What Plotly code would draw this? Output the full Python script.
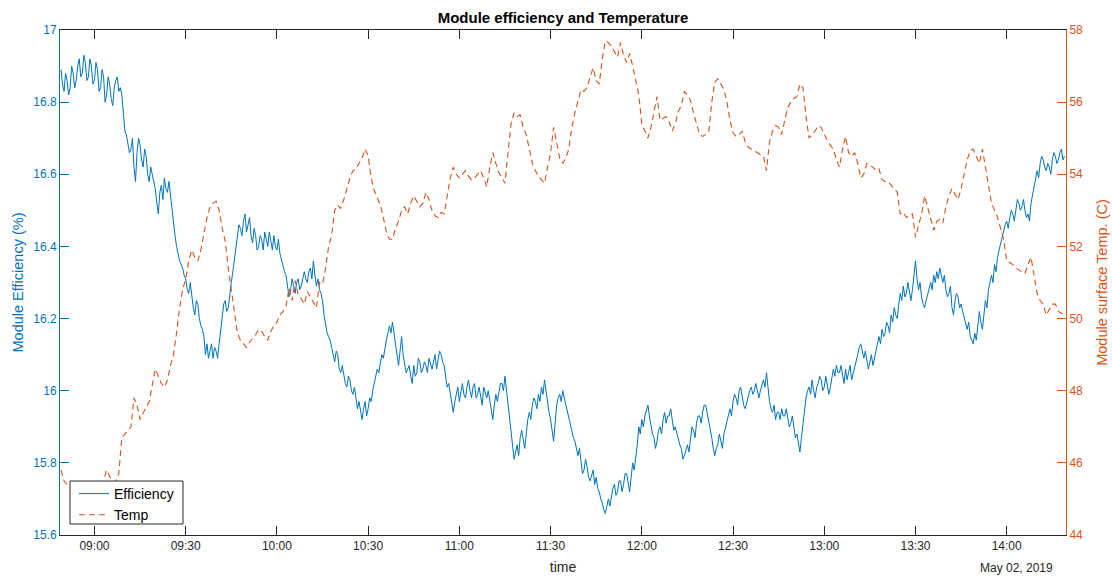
import pandas as pd
import plotly.graph_objects as go

# ---- data (2019-05-02) ----
# efficiency sampled every 30 s from 08:49:00, temperature every 1 min from 08:49:00
eff_start = "2019-05-02 08:49:00"
temp_start = "2019-05-02 08:49:00"

efficiency = [
    16.89, 16.85, 16.83, 16.88, 16.86, 16.82, 16.84, 16.90, 16.88, 16.84, 16.86, 16.90, 16.92, 16.87, 16.88, 16.93, 16.91, 16.86, 16.87, 16.92,
    16.90, 16.85, 16.86, 16.91, 16.89, 16.83, 16.84, 16.89, 16.87, 16.80, 16.82, 16.87, 16.85, 16.81, 16.79, 16.84, 16.86, 16.87, 16.83, 16.84,
    16.82, 16.76, 16.72, 16.71, 16.69, 16.66, 16.67, 16.70, 16.62, 16.58, 16.66, 16.70, 16.68, 16.64, 16.62, 16.67, 16.65, 16.60, 16.58, 16.62,
    16.60, 16.58, 16.56, 16.52, 16.49, 16.55, 16.57, 16.53, 16.59, 16.56, 16.55, 16.58, 16.54, 16.50, 16.46, 16.43, 16.40, 16.38, 16.36, 16.35,
    16.34, 16.32, 16.31, 16.28, 16.27, 16.30, 16.26, 16.23, 16.21, 16.25, 16.24, 16.20, 16.18, 16.17, 16.15, 16.10, 16.13, 16.09, 16.11, 16.13,
    16.09, 16.12, 16.11, 16.09, 16.13, 16.17, 16.20, 16.24, 16.25, 16.22, 16.23, 16.27, 16.30, 16.33, 16.36, 16.39, 16.42, 16.46, 16.45, 16.43,
    16.47, 16.49, 16.44, 16.46, 16.48, 16.43, 16.41, 16.45, 16.43, 16.39, 16.40, 16.43, 16.42, 16.39, 16.44, 16.42, 16.40, 16.44, 16.41, 16.39,
    16.43, 16.40, 16.39, 16.42, 16.38, 16.36, 16.35, 16.33, 16.32, 16.29, 16.26, 16.28, 16.31, 16.29, 16.27, 16.30, 16.31, 16.28, 16.29, 16.31,
    16.33, 16.31, 16.30, 16.33, 16.34, 16.31, 16.36, 16.32, 16.29, 16.31, 16.28, 16.27, 16.25, 16.21, 16.18, 16.16, 16.15, 16.14, 16.12, 16.10,
    16.08, 16.11, 16.10, 16.06, 16.05, 16.07, 16.04, 16.02, 16.01, 16.04, 16.03, 16.00, 15.99, 16.01, 15.98, 15.95, 15.97, 15.94, 15.92, 15.95,
    15.97, 15.93, 15.95, 15.98, 15.97, 16.00, 16.02, 16.04, 16.06, 16.05, 16.08, 16.10, 16.09, 16.12, 16.14, 16.16, 16.18, 16.16, 16.19, 16.16,
    16.13, 16.10, 16.07, 16.11, 16.15, 16.10, 16.08, 16.05, 16.06, 16.07, 16.04, 16.02, 16.07, 16.04, 16.05, 16.09, 16.08, 16.05, 16.06, 16.08,
    16.07, 16.05, 16.09, 16.07, 16.06, 16.08, 16.10, 16.06, 16.08, 16.11, 16.10, 16.08, 16.07, 16.04, 16.01, 16.02, 15.99, 15.96, 15.94, 15.97,
    15.99, 16.01, 15.97, 16.00, 16.02, 15.99, 15.98, 16.01, 16.03, 16.00, 15.98, 16.01, 16.02, 15.98, 15.99, 16.01, 15.98, 15.96, 16.01, 15.99,
    15.98, 16.00, 15.97, 15.94, 15.92, 15.96, 15.99, 15.97, 16.00, 16.02, 16.02, 16.00, 16.04, 16.00, 15.97, 15.93, 15.89, 15.84, 15.81, 15.83,
    15.85, 15.82, 15.87, 15.89, 15.86, 15.84, 15.88, 15.92, 15.94, 15.92, 15.96, 15.98, 15.97, 15.95, 15.99, 15.97, 16.01, 15.99, 16.03, 16.00,
    15.96, 15.94, 15.92, 15.89, 15.86, 15.91, 15.96, 15.98, 15.99, 15.97, 16.00, 15.98, 15.96, 15.94, 15.93, 15.90, 15.89, 15.87, 15.86, 15.84,
    15.82, 15.84, 15.80, 15.77, 15.78, 15.81, 15.79, 15.76, 15.75, 15.77, 15.78, 15.74, 15.76, 15.73, 15.72, 15.70, 15.69, 15.67, 15.66, 15.68,
    15.70, 15.68, 15.71, 15.73, 15.74, 15.71, 15.72, 15.75, 15.75, 15.72, 15.74, 15.77, 15.77, 15.74, 15.72, 15.76, 15.80, 15.78, 15.81, 15.85,
    15.90, 15.88, 15.92, 15.90, 15.93, 15.95, 15.96, 15.93, 15.90, 15.88, 15.87, 15.84, 15.86, 15.89, 15.90, 15.88, 15.92, 15.94, 15.91, 15.93,
    15.93, 15.95, 15.92, 15.89, 15.90, 15.88, 15.87, 15.85, 15.84, 15.81, 15.82, 15.84, 15.85, 15.83, 15.87, 15.90, 15.89, 15.87, 15.91, 15.93,
    15.93, 15.91, 15.94, 15.96, 15.96, 15.94, 15.92, 15.89, 15.87, 15.84, 15.82, 15.84, 15.85, 15.88, 15.86, 15.84, 15.88, 15.90, 15.92, 15.94,
    15.95, 15.93, 15.97, 15.99, 15.98, 15.96, 16.00, 16.01, 15.98, 15.96, 15.95, 15.97, 15.98, 16.00, 16.01, 15.99, 16.00, 16.02, 16.00, 15.98,
    16.00, 16.02, 16.03, 16.01, 16.05, 16.01, 15.97, 15.95, 15.94, 15.96, 15.92, 15.94, 15.94, 15.92, 15.95, 15.93, 15.93, 15.95, 15.92, 15.90,
    15.91, 15.93, 15.90, 15.87, 15.88, 15.85, 15.83, 15.87, 15.91, 15.95, 15.98, 16.00, 16.01, 15.99, 16.03, 16.00, 15.98, 16.01, 16.02, 16.04,
    16.03, 16.00, 16.01, 16.04, 16.02, 15.99, 16.01, 16.04, 16.06, 16.04, 16.07, 16.05, 16.05, 16.07, 16.04, 16.02, 16.06, 16.03, 16.05, 16.07,
    16.03, 16.05, 16.06, 16.08, 16.10, 16.12, 16.13, 16.11, 16.09, 16.11, 16.08, 16.06, 16.08, 16.10, 16.07, 16.09, 16.11, 16.13, 16.15, 16.13,
    16.17, 16.15, 16.16, 16.19, 16.18, 16.16, 16.21, 16.19, 16.23, 16.21, 16.20, 16.24, 16.27, 16.25, 16.29, 16.26, 16.27, 16.30, 16.27, 16.25,
    16.28, 16.32, 16.36, 16.31, 16.28, 16.30, 16.26, 16.24, 16.23, 16.25, 16.27, 16.29, 16.30, 16.28, 16.32, 16.30, 16.33, 16.31, 16.34, 16.32,
    16.30, 16.32, 16.28, 16.26, 16.27, 16.29, 16.23, 16.21, 16.25, 16.27, 16.26, 16.23, 16.24, 16.22, 16.20, 16.18, 16.17, 16.19, 16.15, 16.14,
    16.13, 16.16, 16.14, 16.18, 16.22, 16.19, 16.17, 16.21, 16.25, 16.23, 16.28, 16.30, 16.32, 16.30, 16.35, 16.33, 16.37, 16.39, 16.41, 16.43,
    16.44, 16.46, 16.47, 16.45, 16.48, 16.50, 16.49, 16.47, 16.50, 16.53, 16.52, 16.50, 16.51, 16.53, 16.50, 16.48, 16.49, 16.47, 16.52, 16.54,
    16.57, 16.59, 16.61, 16.59, 16.63, 16.65, 16.64, 16.62, 16.61, 16.63, 16.62, 16.60, 16.64, 16.66, 16.65, 16.63, 16.64, 16.66, 16.67, 16.64,
    16.65,
]

temperature = [
    45.8, 45.5, 45.4, 45.3, 45.2, 45.3, 45.2, 45.1, 45.2, 45.3,
    45.2, 45.3, 45.4, 45.3, 45.5, 45.8, 45.6, 45.45, 45.5, 45.7,
    46.7, 46.8, 46.9, 47.0, 47.8, 47.6, 47.2, 47.4, 47.55, 47.7,
    48.1, 48.6, 48.4, 48.2, 48.1, 48.3, 48.7, 49.0, 49.6, 50.3,
    50.8, 51.1, 51.6, 51.9, 51.7, 51.6, 51.9, 52.4, 52.8, 53.1,
    53.2, 53.25, 53.0, 52.5, 52.15, 51.4, 50.8, 50.1, 49.6, 49.4,
    49.3, 49.2, 49.35, 49.45, 49.55, 49.7, 49.65, 49.5, 49.4, 49.65,
    49.8, 49.9, 50.1, 50.2, 50.35, 50.85, 50.5, 51.05, 50.65, 50.55,
    50.4, 50.75, 50.6, 50.45, 50.3, 51.0, 50.95, 51.4, 52.0, 52.3,
    53.0, 53.15, 53.05, 53.3, 53.6, 53.9, 54.1, 54.15, 54.3, 54.45,
    54.7, 54.5, 53.9, 53.55, 53.35, 53.15, 52.8, 52.4, 52.2, 52.2,
    52.5, 52.7, 53.0, 53.1, 52.9, 53.2, 53.4, 53.25, 53.1, 53.2,
    53.5, 53.3, 53.0, 52.85, 52.8, 52.95, 52.9, 53.4, 53.9, 54.2,
    54.0, 53.9, 54.0, 54.1, 53.95, 53.85, 53.9, 54.0, 54.1, 53.9,
    53.65, 54.2, 54.6, 54.3, 54.05, 53.9, 53.75, 54.6, 55.4, 55.7,
    55.6, 55.65, 55.3, 55.1, 54.7, 54.3, 54.1, 53.95, 53.85, 53.75,
    54.2, 54.6, 55.3, 54.9, 54.45, 54.3, 54.45, 54.7, 55.3, 55.7,
    56.0, 56.35, 56.3, 56.4, 56.7, 56.95, 56.6, 56.5, 57.2, 57.7,
    57.65, 57.55, 57.4, 57.25, 57.65, 57.3, 57.1, 57.35, 57.0, 56.6,
    56.2, 55.4, 55.2, 55.0, 55.3, 55.7, 56.15, 55.5, 55.55, 55.6,
    55.45, 55.2, 55.4, 55.75, 55.9, 56.3, 56.2, 56.05, 55.7, 55.4,
    55.1, 55.05, 55.1, 55.15, 56.0, 56.55, 56.65, 56.5, 56.35, 56.0,
    55.5, 55.15, 55.05, 55.1, 55.2, 54.9, 54.75, 54.7, 54.65, 54.6,
    54.55, 54.5, 54.1, 54.9, 55.2, 55.35, 55.3, 55.1, 55.5, 55.85,
    56.0, 56.1, 56.15, 56.5, 56.4, 55.6, 55.0, 55.1, 55.2, 55.35,
    55.3, 55.1, 54.95, 54.8, 54.7, 54.4, 54.2, 54.7, 55.05, 54.6,
    54.5, 54.6, 54.3, 53.9, 54.0, 54.3, 54.25, 54.2, 54.1, 54.15,
    53.85, 53.8, 53.8, 53.7, 53.6, 53.5, 52.9, 52.95, 52.8, 52.85,
    52.9, 52.25, 52.6, 52.9, 53.4, 53.1, 52.8, 52.45, 52.7, 52.75,
    52.65, 53.1, 53.4, 53.6, 53.45, 53.3, 53.6, 54.0, 54.4, 54.65,
    54.7, 54.5, 54.3, 54.7, 54.2, 53.7, 53.2, 53.0, 52.8, 52.5,
    52.2, 51.6, 51.55, 51.5, 51.4, 51.35, 51.3, 51.25, 51.5, 51.7,
    51.2, 50.7, 50.5, 50.4, 50.1, 50.25, 50.4, 50.4, 50.2, 50.15,
    50.1,
]

time_eff = pd.date_range(start=eff_start, periods=len(efficiency), freq="30s")
time_temp = pd.date_range(start=temp_start, periods=len(temperature), freq="1min")

x_tick_vals = ["2019-05-02 09:00", "2019-05-02 09:30", "2019-05-02 10:00",
               "2019-05-02 10:30", "2019-05-02 11:00", "2019-05-02 11:30",
               "2019-05-02 12:00", "2019-05-02 12:30", "2019-05-02 13:00",
               "2019-05-02 13:30", "2019-05-02 14:00"]
x_tick_text = ["09:00", "09:30", "10:00", "10:30", "11:00", "11:30",
               "12:00", "12:30", "13:00", "13:30", "14:00"]
x_range = ["2019-05-02 08:48:40", "2019-05-02 14:19:30"]

eff_tick_vals = [15.6, 15.8, 16.0, 16.2, 16.4, 16.6, 16.8, 17.0]
eff_tick_text = ["15.6", "15.8", "16", "16.2", "16.4", "16.6", "16.8", "17"]
temp_tick_vals = [44, 46, 48, 50, 52, 54, 56, 58]

# ---- styling ----
BLUE = "#0072BD"
ORANGE = "#D95319"
AXIS = "#262626"
FONT = "Liberation Sans, Arial, sans-serif"

# plot area in pixels (for paper-coordinate conversions)
PL, PR, PT, PB = 60, 1066, 30, 535
PW, PH = PR - PL, PB - PT

fig = go.Figure()
fig.add_trace(go.Scatter(
    x=time_eff, y=efficiency, name="Efficiency", mode="lines",
    line=dict(color=BLUE, width=1), yaxis="y",
))
fig.add_trace(go.Scatter(
    x=time_temp, y=temperature, name="Temp", mode="lines",
    line=dict(color=ORANGE, width=1.1, dash="6px,4px"), yaxis="y2",
))

fig.update_layout(
    width=1112, height=577,
    margin=dict(l=PL, r=1112 - PR, t=PT, b=577 - PB, autoexpand=False),
    paper_bgcolor="white", plot_bgcolor="white",
    font=dict(family=FONT, size=12, color=AXIS),
    title=dict(text="<b>Module efficiency and Temperature</b>",
               x=0.5, xref="paper", xanchor="center",
               y=1 - 18 / 577, yanchor="middle",
               font=dict(size=15, color="#000000")),
    showlegend=True,
    legend=dict(x=(74 - PL) / PW, y=(PB - 531) / PH,
                xanchor="left", yanchor="bottom",
                bgcolor="rgba(0,0,0,0)", borderwidth=0,
                font=dict(size=14, color="#000000"),
                itemwidth=30, tracegroupgap=0),
    shapes=[dict(
        type="rect", xref="paper", yref="paper", layer="above",
        x0=(70 - PL) / PW, x1=(183 - PL) / PW,
        y0=(PB - 524) / PH, y1=(PB - 481) / PH,
        fillcolor="white", line=dict(color=AXIS, width=1),
    )],
    xaxis=dict(
        type="date", range=x_range,
        tickmode="array", tickvals=x_tick_vals, ticktext=x_tick_text,
        ticks="inside", ticklen=9, tickcolor=AXIS, tickwidth=1,
        showline=True, linecolor=AXIS, linewidth=1, mirror="ticks",
        showgrid=False, zeroline=False,
        tickfont=dict(size=12, color=AXIS),
        title=dict(text="time", font=dict(size=14, color=AXIS), standoff=9),
        automargin=False,
    ),
    yaxis=dict(
        range=[15.6, 17.0], tickmode="array",
        tickvals=eff_tick_vals, ticktext=eff_tick_text,
        ticks="inside", ticklen=9, tickcolor=BLUE, tickwidth=1,
        showline=True, linecolor=BLUE, linewidth=1,
        showgrid=False, zeroline=False,
        tickfont=dict(size=12, color=BLUE),
        title=dict(text="Module Efficiency (%)",
                   font=dict(size=14.5, color=BLUE), standoff=6),
        automargin=False,
    ),
    yaxis2=dict(
        range=[44, 58], overlaying="y", side="right", anchor="x",
        tickmode="array", tickvals=temp_tick_vals,
        ticks="inside", ticklen=9, tickcolor=ORANGE, tickwidth=1,
        showline=True, linecolor=ORANGE, linewidth=1,
        showgrid=False, zeroline=False,
        tickfont=dict(size=12, color=ORANGE),
        title=dict(text="Module surface Temp. (C)",
                   font=dict(size=14.5, color=ORANGE), standoff=14),
        automargin=False,
    ),
    annotations=[dict(
        text="May 02, 2019", xref="paper", yref="paper",
        x=(1055 - PL) / PW, y=-(568 - PB) / PH,
        xanchor="right", yanchor="middle", showarrow=False,
        font=dict(size=12, color=AXIS),
    )],
)

fig.write_html("out.html",
               config={"displayModeBar": False},
               post_script="document.body.style.margin='0';document.body.style.overflow='hidden';")
